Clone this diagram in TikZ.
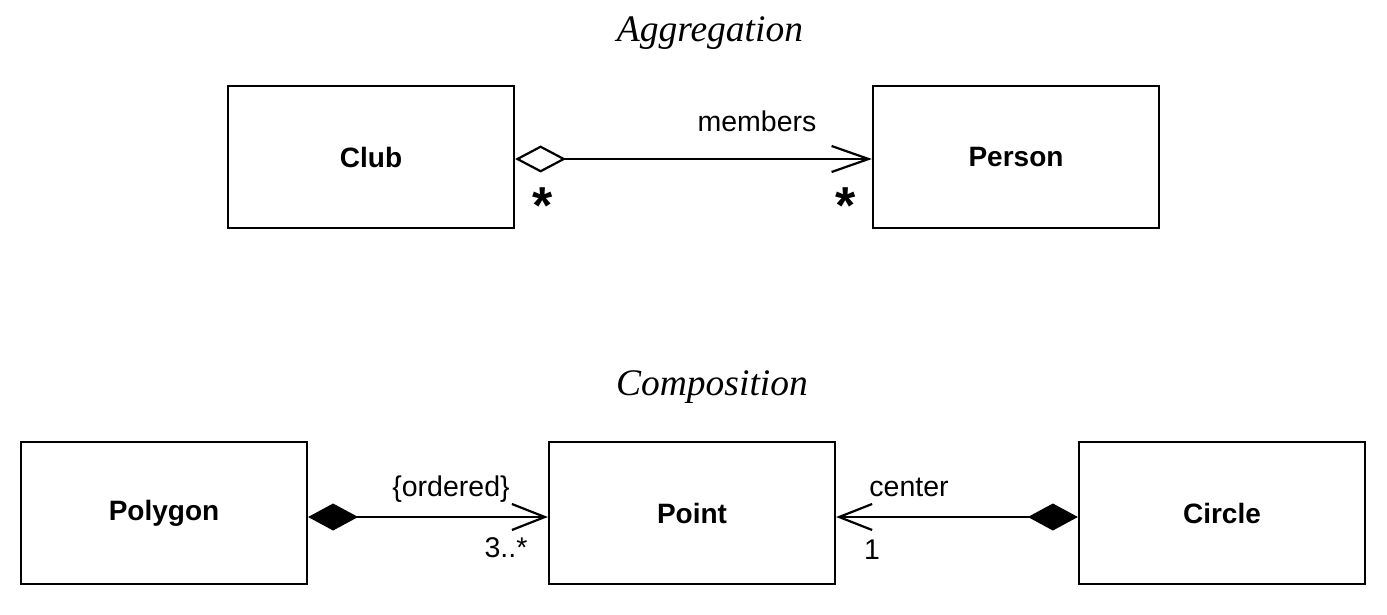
\documentclass[tikz,border=0pt]{standalone}
\usepackage{fontspec}
\setmainfont{Liberation Serif}
\setsansfont{Liberation Sans}
\usetikzlibrary{arrows.meta}

\begin{document}
\begin{tikzpicture}[x=1pt,y=-1pt,
  cls/.style={draw, line width=2.2pt, minimum width=286pt, minimum height=142pt, inner sep=0pt,
    font=\fontsize{28}{28}\selectfont\sffamily\bfseries},
  lbl/.style={font=\fontsize{28.5}{28.5}\selectfont\sffamily, inner sep=0pt, anchor=base},
  ttl/.style={font=\fontsize{37.5}{37.5}\selectfont\itshape, inner sep=0pt, anchor=base},
  mult/.style={font=\fontsize{52}{52}\selectfont\sffamily\bfseries, inner sep=0pt, anchor=base},
  aggr/.style={line width=2.2pt,
    {Diamond[open,length=51pt,width=27pt]}-{Straight Barb[length=37pt,width=26pt]}},
  comp/.style={line width=2.2pt,
    {Diamond[length=50pt,width=27pt]}-{Straight Barb[length=33pt,width=26pt]}},
]
\useasboundingbox[fill=white] (0,0) rectangle (1387,615);

% titles
\node[ttl] (t1) at (710,42) {Aggregation};
\node[ttl] (t2) at (712,395) {Composition};

% aggregation
\node[cls] (club) at (371,157) {Club};
\node[cls] (person) at (1016,157) {Person};
\draw[aggr] ([yshift=-2pt]club.east) -- ([yshift=-2pt]person.west);
\node[lbl] (members) at (757,132) {members};
\node[mult] (s1) at (543,223) {*};
\node[mult] (s2) at (846,223) {*};

% composition
\node[cls] (polygon) at (164,513) {Polygon};
\node[cls] (point) at (692,513) {Point};
\node[cls] (circle) at (1222,513) {Circle};
\draw[comp] ([yshift=-4pt]polygon.east) -- ([yshift=-4pt]point.west);
\draw[comp] ([yshift=-4pt]circle.west) -- ([yshift=-4pt]point.east);
\node[lbl] (ordered) at (451,496) {\{ordered\}};
\node[lbl] (m3) at (506,557) {3..*};
\node[lbl] (center) at (909,496) {center};
\node[lbl] (m1) at (872,559) {1};
\end{tikzpicture}
\end{document}
